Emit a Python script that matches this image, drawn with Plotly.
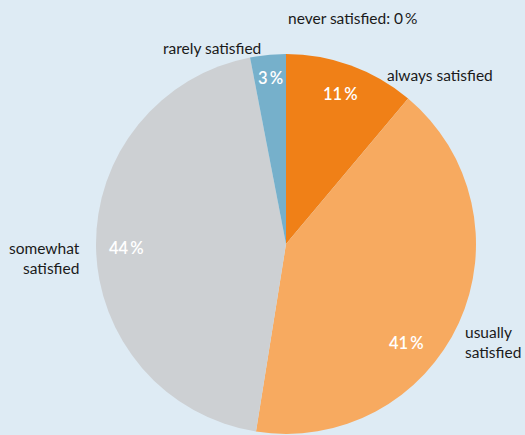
import math
import plotly.graph_objects as go

categories = ["always satisfied", "usually satisfied", "somewhat satisfied", "rarely satisfied", "never satisfied"]
values = [11, 41, 44, 3, 0]
colors = ["#f08017", "#f7aa60", "#cdd0d3", "#76b0cb", "#5b8fb0"]
outside_labels = ["always satisfied", "usually<br>satisfied", "somewhat<br>satisfied", "rarely satisfied", "never satisfied: 0\u2009%"]

W, H = 525, 435
cx, cy, R = 286, 244, 190  # pixel layout of pie

fig = go.Figure()
fig.add_trace(go.Pie(
    labels=categories, values=values, sort=False, direction="clockwise", rotation=0,
    marker=dict(colors=colors, line=dict(width=0)),
    textinfo="none", hoverinfo="label+percent", showlegend=False,
    domain=dict(x=[(cx - R) / W, (cx + R) / W], y=[(H - cy - R) / H, (H - cy + R) / H]),
))

# percent labels inside slices, placed from the data angles (with small style nudges)
angle_nudge = [0, 15, -0.5, 0, 0]      # degrees
radius_factor = [0.84, 0.82, 0.84, 0.88, 0.85]
total = sum(values)
cum = 0
ann = []
for i, v in enumerate(values):
    mid = (cum + v / 2) / total * 2 * math.pi + math.radians(angle_nudge[i])
    cum += v
    if v == 0:
        continue
    pct = round(v / total * 100)
    r = radius_factor[i] * R
    x = (cx + r * math.sin(mid)) / W
    y = (H - cy + r * math.cos(mid)) / H
    ann.append(dict(x=x, y=y, xref="paper", yref="paper", text=f"{pct}\u2009%", showarrow=False,
                    font=dict(family="Lato", size=16.5, color="white", weight=600),
                    xanchor="center", yanchor="middle"))

label_pos = [
    (385, 75, "left"),
    (463, 342, "left"),
    (82, 258, "right"),
    (263, 48, "right"),
    (286, 18, "left"),
]
for txt, (px, py, anchor) in zip(outside_labels, label_pos):
    ann.append(dict(x=px / W, y=1 - py / H, xref="paper", yref="paper", text=txt, showarrow=False,
                    align=anchor, xanchor=anchor, yanchor="middle",
                    font=dict(family="Lato", size=15.5, color="#1a1a1a")))

fig.update_layout(
    width=W, height=H, margin=dict(l=0, r=0, t=0, b=0),
    paper_bgcolor="#deebf4", plot_bgcolor="#deebf4",
    annotations=ann,
)
fig.write_html("out.html")
